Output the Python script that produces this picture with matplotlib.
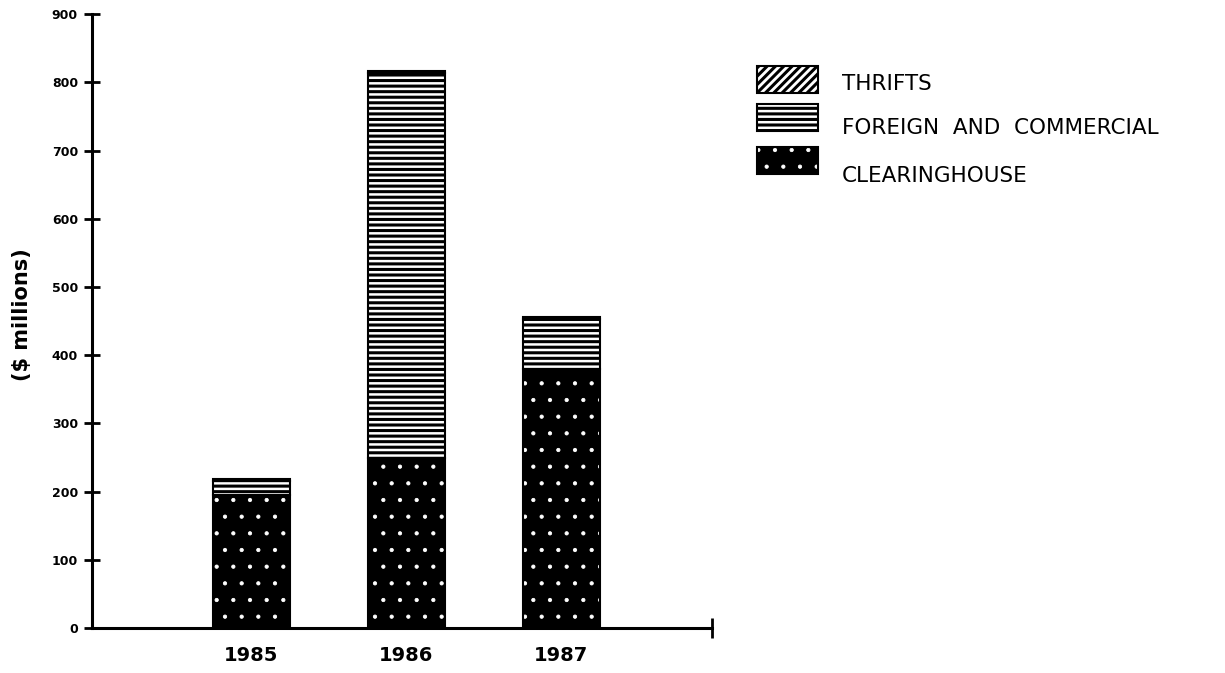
import matplotlib
matplotlib.use("Agg")
import matplotlib.pyplot as plt
from matplotlib.patches import Rectangle
import numpy as np

years = ["1985", "1986", "1987"]
clearinghouse = [195, 249, 380]
foreign_commercial = [20, 565, 73]
thrifts = [3, 2, 3]
y_ticks = [0, 100, 200, 300, 400, 500, 600, 700, 800, 900]

plt.rcParams["font.family"] = ["DejaVu Sans"]
plt.rcParams["hatch.linewidth"] = 2.2

STRIPE_LW = 2.2
SPECK_LW = 0.6


def set_hlw(patch, lw):
    if hasattr(patch, "set_hatch_linewidth"):
        patch.set_hatch_linewidth(lw)


fig = plt.figure(figsize=(12.25, 6.73), dpi=100)
ax = fig.add_axes([0.075, 0.067, 0.506, 0.912])

x = np.arange(1, len(years) + 1)
width = 0.5
clear = np.array(clearinghouse)
foreign = np.array(foreign_commercial)
thr = np.array(thrifts)

# clearinghouse: black with a sparse white speckle
speck = ax.bar(x, clear, width, color="black", edgecolor="white", hatch=".", linewidth=0)
for p in speck:
    set_hlw(p, SPECK_LW)
ax.bar(x, clear, width, fill=False, edgecolor="black", linewidth=1.5)
# foreign and commercial: horizontal stripes
stripes = ax.bar(x, foreign, width, bottom=clear, color="white", edgecolor="black",
                 hatch="---", linewidth=1.5)
for p in stripes:
    set_hlw(p, STRIPE_LW)
# thrifts: diagonal hatching
diag = ax.bar(x, thr, width, bottom=clear + foreign, color="white", edgecolor="black",
              hatch="////", linewidth=1.5)
for p in diag:
    set_hlw(p, STRIPE_LW)

ax.set_xlim(-0.03, 3.97)
ax.set_ylim(0, 900)
ax.set_yticks(y_ticks)
ax.set_yticklabels([str(v) for v in y_ticks], fontsize=9, fontweight="bold")
ax.set_xticks(x)
ax.set_xticklabels(years, fontsize=14, fontweight="semibold")
ax.tick_params(axis="y", direction="inout", length=12, width=2, pad=4)
ax.tick_params(axis="x", length=0, pad=13)
for side in ("top", "right"):
    ax.spines[side].set_visible(False)
ax.spines["left"].set_linewidth(2.2)
ax.spines["bottom"].set_linewidth(2.2)
ax.plot(3.97, 0, marker="|", color="black", markersize=14, mew=2, clip_on=False)

ax.set_ylabel("($ millions)", fontsize=15, fontweight="bold")
ax.yaxis.set_label_coords(-0.097, 0.51)

# legend: swatches and labels
legend_labels = ["THRIFTS", "FOREIGN  AND  COMMERCIAL", "CLEARINGHOUSE"]
legend_hatches = ["////", "---", "."]
legend_faces = ["white", "white", "black"]
box_y = [0.862, 0.806, 0.742]
text_y = [0.875, 0.81, 0.738]
for label, hatch, face, by, ty in zip(legend_labels, legend_hatches, legend_faces, box_y, text_y):
    if face == "black":
        r = Rectangle((0.618, by), 0.05, 0.04, transform=fig.transFigure,
                      facecolor="black", edgecolor="white", hatch=hatch, linewidth=0)
        set_hlw(r, SPECK_LW)
        fig.add_artist(r)
        fig.add_artist(Rectangle((0.618, by), 0.05, 0.04, transform=fig.transFigure,
                                 fill=False, edgecolor="black", linewidth=1.5))
    else:
        r = Rectangle((0.618, by), 0.05, 0.04, transform=fig.transFigure,
                      facecolor=face, edgecolor="black", hatch=hatch, linewidth=1.5)
        set_hlw(r, STRIPE_LW)
        fig.add_artist(r)
    fig.text(0.687, ty, label, fontsize=15.5, va="center", ha="left")

fig.savefig("out.png", dpi=100)
